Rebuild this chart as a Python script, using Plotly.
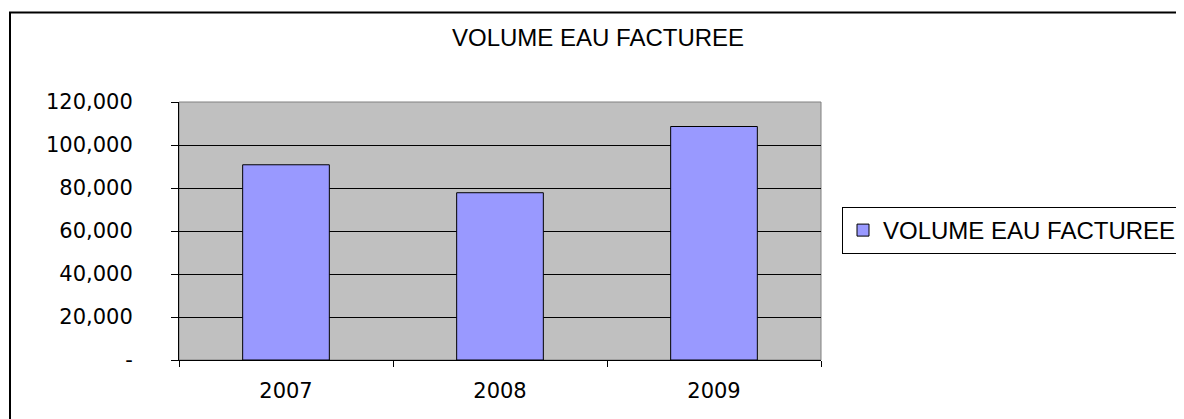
import plotly.graph_objects as go

years = ["2007", "2008", "2009"]
volumes = [90800, 77800, 108600]
series_name = "VOLUME EAU FACTUREE"
chart_title = "VOLUME EAU FACTUREE"
y_tickvals = [0, 20000, 40000, 60000, 80000, 100000, 120000]
y_ticktext = ["-", "20,000", "40,000", "60,000", "80,000", "100,000", "120,000"]

# the page body adds an 8px offset, so the figure is laid out 8px up/left
OFF = 8
W, H = 1184 - OFF, 419 - OFF
L, R, T, B = 179 - OFF, 821 - OFF, 102 - OFF, 360 - OFF


def px_x(px):
    return (px - OFF - L) / (R - L)


def px_y(py):
    return (B - (py - OFF)) / (B - T)


fig = go.Figure()
fig.add_trace(go.Bar(
    x=years, y=volumes, name=series_name,
    marker=dict(color="#9999FF", line=dict(color="#000000", width=1)),
    showlegend=True,
))

tick_font = dict(family="DejaVu Sans", size=21, color="#000000")
label_font = dict(family="Liberation Sans, Arial", size=24, color="#000000")

fig.update_layout(
    width=W, height=H,
    margin=dict(l=L, r=W - R, t=T, b=H - B, autoexpand=False),
    paper_bgcolor="#FFFFFF",
    plot_bgcolor="#C0C0C0",
    bargap=0.595,
    showlegend=True,
    legend=dict(
        x=px_x(842), y=px_y(207), xanchor="left", yanchor="top",
        bordercolor="#000000", borderwidth=1, bgcolor="#FFFFFF",
        font=label_font,
    ),
    xaxis=dict(
        type="category",
        showgrid=False, showline=True, linecolor="#000000", linewidth=1,
        ticks="outside", ticklen=6, tickcolor="#000000", tickson="boundaries",
        tickfont=tick_font, ticklabelstandoff=12,
    ),
    yaxis=dict(
        range=[0, 120000], tickvals=y_tickvals, ticktext=y_ticktext,
        showgrid=True, gridcolor="#000000", gridwidth=1,
        showline=True, linecolor="#000000", linewidth=1,
        ticks="outside", ticklen=7, tickcolor="#000000",
        tickfont=tick_font, ticklabelstandoff=34,
        zeroline=False,
    ),
    shapes=[
        dict(type="rect", xref="paper", yref="paper", x0=0, x1=1, y0=0, y1=1,
             line=dict(color="#808080", width=1), layer="below"),
        dict(type="rect", xref="paper", yref="paper",
             x0=px_x(10), x1=px_x(1200), y0=px_y(430), y1=px_y(12.5),
             line=dict(color="#000000", width=2), fillcolor="rgba(0,0,0,0)"),
    ],
    annotations=[
        dict(text=chart_title, xref="paper", yref="paper",
             x=px_x(450), y=px_y(37.5), xanchor="left", yanchor="middle",
             showarrow=False, font=label_font),
    ],
)

fig.write_html("out.html")
